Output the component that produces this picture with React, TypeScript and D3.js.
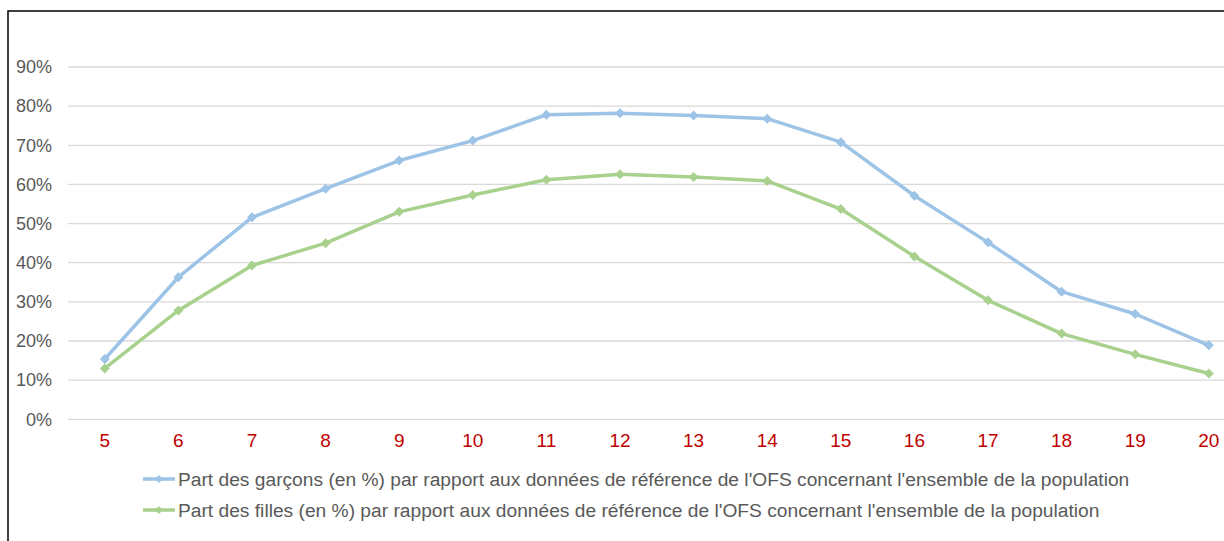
import React from "react";
import * as d3 from "d3";

// ages shown on the x axis
const ages = ["5", "6", "7", "8", "9", "10", "11", "12", "13", "14", "15", "16", "17", "18", "19", "20"];
// share of boys (%) vs OFS reference data
const boys = [15.4, 36.3, 51.6, 58.9, 66.1, 71.2, 77.8, 78.2, 77.6, 76.8, 70.8, 57.1, 45.2, 32.6, 26.9, 18.9];
// share of girls (%)
const girls = [13.0, 27.8, 39.3, 45.0, 53.0, 57.3, 61.2, 62.6, 61.9, 60.9, 53.7, 41.6, 30.4, 21.9, 16.6, 11.7];
const yTicks = [0, 10, 20, 30, 40, 50, 60, 70, 80, 90];
const legendLabels = [
  "Part des garçons (en %) par rapport aux données de référence de l'OFS concernant l'ensemble de la population",
  "Part des filles (en %) par rapport aux données de référence de l'OFS concernant l'ensemble de la population",
];

const W = 1224;
const H = 541;
const FONT = "'Liberation Sans', Arial, sans-serif";
const BLUE = "#9dc3e6";
const GREEN = "#a9d18e";

const Diamond = ({ x, y, r, fill }: { x: number; y: number; r: number; fill: string }) => (
  <path d={`M${x},${y - r}L${x + r},${y}L${x},${y + r}L${x - r},${y}Z`} fill={fill} />
);

export default function App() {
  const x = d3.scaleBand().domain(ages).range([68, 68 + 16 * 73.6]);
  const y = d3.scaleLinear().domain([0, 90]).range([419.3, 67]);
  const cx = (a: string) => (x(a) || 0) + x.bandwidth() / 2;

  const line = d3
    .line<number>()
    .x((_, i) => cx(ages[i]))
    .y((d) => y(d));

  const series = [
    { values: boys, color: BLUE },
    { values: girls, color: GREEN },
  ];

  return (
    <svg
      width={W}
      height={H}
      style={{ position: "absolute", left: 0, top: 0, background: "#fff" }}
      fontFamily={FONT}
    >
      <rect x={0} y={0} width={W} height={H} fill="#fff" />
      {/* frame */}
      <path d={`M8,${H}L8,11L${W},11`} fill="none" stroke="#000" strokeWidth={1.5} />

      {/* gridlines + y labels */}
      {yTicks.map((t) => (
        <g key={t}>
          <line x1={68} x2={W} y1={y(t)} y2={y(t)} stroke="#d9d9d9" strokeWidth={1.3} />
          <text x={52} y={y(t)} dy="0.35em" textAnchor="end" fontSize={18} fill="#595959">
            {t}%
          </text>
        </g>
      ))}

      {/* x labels */}
      {ages.map((a) => (
        <text key={a} x={cx(a)} y={440} dy="0.35em" textAnchor="middle" fontSize={19} fill="#c00000">
          {a}
        </text>
      ))}

      {/* lines */}
      {series.map((s, k) => (
        <g key={k}>
          <path d={line(s.values) || ""} fill="none" stroke={s.color} strokeWidth={3.5} strokeLinejoin="round" />
          {s.values.map((v, i) => (
            <Diamond key={i} x={cx(ages[i])} y={y(v)} r={5} fill={s.color} />
          ))}
        </g>
      ))}

      {/* legend */}
      {legendLabels.map((lab, k) => {
        const ly = 479 + k * 31;
        const c = series[k].color;
        return (
          <g key={k}>
            <line x1={143} x2={175} y1={ly} y2={ly} stroke={c} strokeWidth={3.5} />
            <Diamond x={159} y={ly} r={4} fill={c} />
            <text x={178} y={ly} dy="0.35em" fontSize={19.2} fill="#595959">
              {lab}
            </text>
          </g>
        );
      })}
    </svg>
  );
}
